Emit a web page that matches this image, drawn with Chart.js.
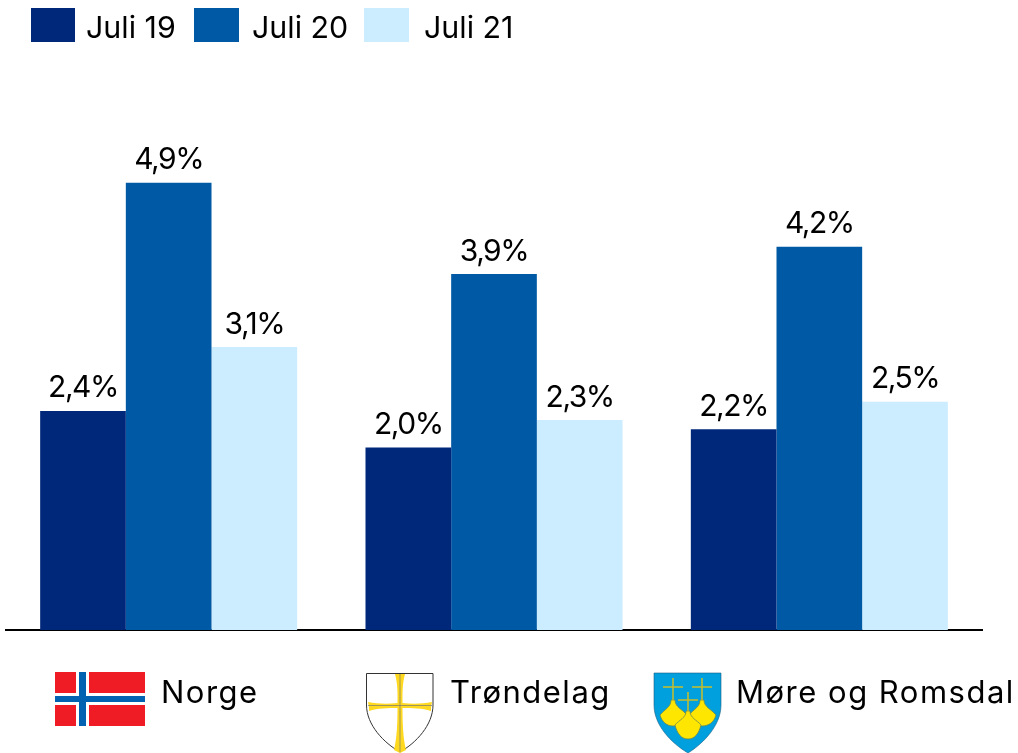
<!DOCTYPE html>
<html>
<head>
<meta charset="utf-8">
<title>Juli 19-21</title>
<script src="https://cdn.jsdelivr.net/npm/chart.js@4/dist/chart.umd.min.js"></script>
<style>
    body { margin: 0; background: #fff; }
    #wrap { position: relative; width: 1018px; height: 753px; overflow: hidden; font-family: Inter, sans-serif; color: #000; }
    #chart { position: absolute; left: 0; top: 0; }
    #icons { position: absolute; left: 0; top: 0; }
    .swatch { position: absolute; top: 8px; height: 34px; }
    .legend-text { position: absolute; top: 8px; line-height: 38px; font-size: 30.4px; white-space: nowrap; }
    .cat { position: absolute; top: 670px; line-height: 44px; font-size: 31px; letter-spacing: 1.5px; white-space: nowrap; }
</style>
</head>
<body>
<div id="wrap">
    <canvas id="chart" width="1018" height="753"></canvas>
    <svg id="icons" width="1018" height="753">
        <!-- Norge -->
        <rect x="55" y="672" width="90" height="54" fill="#EF1C25"/>
        <rect x="76" y="672" width="13" height="54" fill="#fff"/>
        <rect x="55" y="693" width="90" height="12" fill="#fff"/>
        <rect x="79" y="672" width="7" height="54" fill="#0062B1"/>
        <rect x="55" y="696" width="90" height="6" fill="#0062B1"/>
        <!-- Trøndelag -->
        <path d="M366.500 673.500H433V705C433 725 416 743 400 752C384 743 366.500 725 366.500 705Z" fill="#fff" stroke="#333" stroke-width="1"/>
        <path d="M395 674H405C402 685 402.500 695 402.500 703C412 704 422 704 432 702C431 706 431 708 431 711C422 708 412 708 402.500 708C402.500 722 403 738 406 750L400 753L394 750C397 738 397.500 722 397.500 708C388 708 378 708 369 711C369 708 369 706 368 702C378 704 388 704 397.500 703C397.500 695 398 685 395 674Z" fill="#FFD91F"/>
        <path d="M400 674V752M368 705.500H432" stroke="#777" stroke-width="0.7" fill="none"/>
        <!-- Møre og Romsdal -->
        <path d="M654 673H721V705C721 725 704 743 688 753C671 743 654 725 654 705Z" fill="#009FDD" stroke="#1C5F86" stroke-width="0.6"/>
        <g fill="#FFE600" stroke="#6E8A50" stroke-width="0.8">
            <path d="M671 700C671 707 665 709 660 715C662 722 667 726 673 726C680 726 685 722 687 715C682 709 675 707 675 700Z"/>
            <path d="M700 700C700 707 694 709 689 715C691 722 696 726 702 726C709 726 714 722 716 715C711 709 704 707 704 700Z"/>
            <path d="M686 711C686 718 679 720 675 725C677 733 681 739 688 739C695 739 699 733 701 725C697 720 690 718 690 711Z"/>
        </g>
        <path d="M673 678V701M663 687H683M702 678V701M692 687H712M688 692V712M678 700H698" stroke="#C9BE2A" stroke-width="1.5" fill="none"/>
    </svg>
</div>
<script>
const categories = ['Norge', 'Trøndelag', 'Møre og Romsdal'];
const seriesNames = ['Juli 19', 'Juli 20', 'Juli 21'];
const juli19 = [2.4, 2.0, 2.2];
const juli20 = [4.9, 3.9, 4.2];
const juli21 = [3.1, 2.3, 2.5];
const seriesColors = ['#00287A', '#0059A4', '#CCECFF'];

// Legend and category row sit outside the plot
const wrap = document.getElementById('wrap');
const swatchX = [31, 194, 364];
const swatchW = [44, 45, 45];
const legendTextX = [86, 252, 424];
const catX = [161, 450, 736];

seriesNames.forEach((name, i) => {
    wrap.innerHTML += `
        <div class="swatch" style="left:${swatchX[i]}px;width:${swatchW[i]}px;background:${seriesColors[i]}"></div>
        <div class="legend-text" style="left:${legendTextX[i]}px">${name}</div>
    `;
});
categories.forEach((name, i) => {
    wrap.innerHTML += `<div class="cat" style="left:${catX[i]}px">${name}</div>`;
});

// Value labels above the bars
const valueLabels = {
    id: 'valueLabels',
    afterDatasetsDraw(chart) {
        const ctx = chart.ctx;
        ctx.save();
        ctx.font = '30px Inter, sans-serif';
        ctx.letterSpacing = '-1.5px';
        ctx.fillStyle = '#000';
        ctx.textAlign = 'center';
        ctx.textBaseline = 'alphabetic';
        chart.data.datasets.forEach((ds, d) => {
            chart.getDatasetMeta(d).data.forEach((bar, i) => {
                const text = ds.data[i].toFixed(1).replace('.', ',') + '%';
                ctx.fillText(text, bar.x, bar.y - 13.5);
            });
        });
        ctx.restore();
    }
};

new Chart(document.getElementById('chart').getContext('2d'), {
    type: 'bar',
    data: {
        labels: categories,
        datasets: [
            { label: seriesNames[0], data: juli19, backgroundColor: seriesColors[0] },
            { label: seriesNames[1], data: juli20, backgroundColor: seriesColors[1] },
            { label: seriesNames[2], data: juli21, backgroundColor: seriesColors[2] }
        ]
    },
    options: {
        responsive: false,
        animation: false,
        layout: { padding: { left: 6, right: 36, top: 128, bottom: 115 } },
        datasets: { bar: { barPercentage: 1, categoryPercentage: 0.79 } },
        plugins: { legend: { display: false }, tooltip: { enabled: false } },
        scales: {
            x: {
                grid: { display: false },
                ticks: { display: false },
                border: { color: '#000', width: 2 }
            },
            y: { display: false, min: 0, max: 5.5 }
        }
    },
    plugins: [valueLabels]
});
</script>
</body>
</html>
